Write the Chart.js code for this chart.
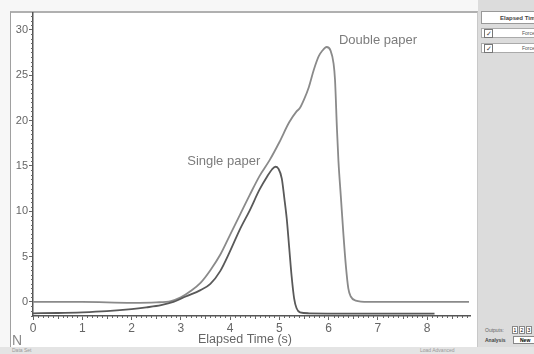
<!DOCTYPE html>
<html>
<head>
<meta charset="utf-8">
<script src="https://cdn.jsdelivr.net/npm/chart.js@4.4.1/dist/chart.umd.min.js"></script>
<style>
  body { margin: 0; background: #f7f7f7; }
  #wrap { position: relative; width: 534px; height: 354px; overflow: hidden; font-family: "Liberation Sans", Arial, sans-serif; }
  .plot { position: absolute; left: 10px; top: 11px; width: 466px; height: 336px; background: #fff;
          border-left: 1px solid #a0a0a0; border-top: 2px solid #b0b0b0; border-right: 1px solid #c8c8c8; }
  .side { position: absolute; left: 478px; top: 0; width: 56px; height: 354px; background: #dcdcdc; }
  .hdr { position: absolute; left: 481px; top: 11px; width: 60px; height: 13px; background: #fff; border: 1px solid #999;
         font-size: 6px; font-weight: bold; line-height: 13px; padding-left: 18px; box-sizing: border-box; color: #444; white-space: nowrap; }
  .row { position: absolute; left: 481px; width: 60px; height: 10px; background: #fff; border: 1px solid #aaa; box-sizing: border-box;
         font-size: 5px; line-height: 9px; color: #555; }
  .row .cb { position: absolute; left: 2px; top: 0px; width: 7px; height: 7px; border: 1px solid #777; font-size: 7px; line-height: 7px; text-align: center; color: #444; }
  .row .t { position: absolute; left: 40px; top: 0; }
  .bottom { position: absolute; left: 0; top: 347px; width: 534px; height: 7px; background: #e4e4e4; font-size: 5px; color: #999; }
  .tiny { position: absolute; font-size: 5px; color: #666; white-space: nowrap; }
  .box { position: absolute; width: 6px; height: 8px; border: 1px solid #888; background: #fff; box-sizing: border-box; font-size: 5px; text-align: center; line-height: 6px; }
  canvas { position: absolute; left: 0; top: 0; }
</style>
</head>
<body>
<div id="wrap">
  <div class="plot"></div>
  <div class="side"></div>
  <div class="hdr">Elapsed Time</div>
  <div class="row" style="top:28px"><span class="cb">&#10003;</span><span class="t">Force</span></div>
  <div class="row" style="top:43px"><span class="cb">&#10003;</span><span class="t">Force</span></div>
  <div class="tiny" style="left:485px; top:327px;">Outputs:</div>
  <div class="box" style="left:512px; top:326px;">1</div>
  <div class="box" style="left:519px; top:326px;">2</div>
  <div class="box" style="left:526px; top:326px;">3</div>
  <div class="tiny" style="left:485px; top:337px; font-weight:bold; color:#444;">Analysis</div>
  <div class="box" style="left:513px; top:336px; width:24px; font-weight:bold; line-height:6px; text-align:left; padding-left:6px;">New</div>
  <div class="bottom"><span style="position:absolute; left:12px; top:0;">Data Set</span><span style="position:absolute; left:420px; top:0;">Load Advanced</span></div>
  <canvas id="c" width="534" height="354"></canvas>
</div>
<script>
const seriesNames = ['Single paper', 'Double paper'];

const singleTime = [0, 0.5, 1.0, 1.5, 2.0, 2.3, 2.6, 2.85, 3.1, 3.4, 3.6, 3.8, 4.0, 4.2, 4.4, 4.6, 4.75, 4.85, 4.92,
  4.98, 5.05, 5.1, 5.15, 5.2, 5.25, 5.3, 5.35, 5.42, 5.6, 6.5, 7.5, 8.15];
const singleForce = [-1.25, -1.22, -1.15, -1.02, -0.8, -0.6, -0.35, 0.0, 0.6, 1.3, 2.0, 3.4, 5.6, 8.0, 10.1, 12.4, 13.8, 14.6, 14.9,
  14.7, 13.6, 11.5, 9.2, 6.0, 2.8, 0.4, -0.7, -1.15, -1.25, -1.28, -1.28, -1.28];

const doubleTime = [0, 1.0, 2.0, 2.5, 2.8, 3.0, 3.2, 3.4, 3.6, 3.8, 4.0, 4.2, 4.4, 4.6, 4.8, 5.0, 5.2, 5.35, 5.42,
  5.5, 5.6, 5.7, 5.8, 5.86, 5.96, 6.04, 6.1, 6.13, 6.17, 6.2, 6.25, 6.3, 6.35, 6.4, 6.45, 6.55, 6.8, 8.85];
const doubleForce = [0.0, 0.0, -0.1, -0.05, 0.1, 0.5, 1.2, 2.1, 3.5, 5.2, 7.4, 9.6, 11.8, 13.9, 15.6, 17.6, 19.8, 21.0, 21.4,
  22.3, 23.7, 25.6, 27.1, 27.6, 28.1, 27.7, 26.3, 24.5, 19.0, 15.5, 11.5, 7.5, 4.0, 1.5, 0.6, 0.15, 0.0, 0.0];

const xTicks = [0, 1, 2, 3, 4, 5, 6, 7, 8];
const yTicks = [0, 5, 10, 15, 20, 25, 30];
const xTitle = 'Elapsed Time (s)';
const yUnit = 'N';
// where the two curve labels sit, in data units (time, force)
const labelAnchors = [[3.13, 15.45], [6.21, 28.8]];

const toPoints = (xs, ys) => xs.map((x, i) => ({ x: x, y: ys[i] }));

const decor = {
  id: 'decor',
  afterDraw(chart) {
    const ctx = chart.ctx;
    const xs = chart.scales.x, ys = chart.scales.y;
    const area = chart.chartArea;
    ctx.save();
    ctx.strokeStyle = '#666';
    ctx.lineWidth = 1;
    // minor ticks along the time axis
    for (let i = 0; i <= Math.floor(xs.max * 10); i++) {
      const px = Math.round(xs.getPixelForValue(i / 10)) + 0.5;
      const len = i % 10 === 0 ? 0 : (i % 5 === 0 ? 3 : 2);
      if (!len) continue;
      ctx.beginPath();
      ctx.moveTo(px, area.bottom);
      ctx.lineTo(px, area.bottom + len);
      ctx.stroke();
    }
    // minor ticks along the force axis
    for (let v = -1.5; v <= ys.max; v += 0.5) {
      if (v % 5 === 0) continue;
      const py = Math.round(ys.getPixelForValue(v)) + 0.5;
      ctx.beginPath();
      ctx.moveTo(area.left - 2, py);
      ctx.lineTo(area.left, py);
      ctx.stroke();
    }
    // curve labels
    ctx.fillStyle = '#7c7c7c';
    ctx.font = '13px "Liberation Sans", Arial, sans-serif';
    ctx.textBaseline = 'middle';
    ctx.textAlign = 'left';
    labelAnchors.forEach((a, i) => {
      ctx.fillText(seriesNames[i], xs.getPixelForValue(a[0]), ys.getPixelForValue(a[1]));
    });
    // axis title and unit
    ctx.fillStyle = '#666';
    ctx.font = '12.5px "Liberation Sans", Arial, sans-serif';
    ctx.textAlign = 'center';
    ctx.fillText(xTitle, 245, 340);
    ctx.fillStyle = '#8a8a8a';
    ctx.font = '14px "Liberation Sans", Arial, sans-serif';
    ctx.textAlign = 'left';
    ctx.fillText(yUnit, 12, 341);
    ctx.restore();
  }
};

new Chart(document.getElementById('c'), {
  type: 'scatter',
  data: {
    datasets: [{
      label: seriesNames[0],
      data: toPoints(singleTime, singleForce),
      showLine: true,
      borderColor: '#595959',
      borderWidth: 1.8,
      pointRadius: 0,
      cubicInterpolationMode: 'monotone'
    }, {
      label: seriesNames[1],
      data: toPoints(doubleTime, doubleForce),
      showLine: true,
      borderColor: '#8a8a8a',
      borderWidth: 1.8,
      pointRadius: 0,
      cubicInterpolationMode: 'monotone'
    }]
  },
  options: {
    responsive: false,
    animation: false,
    layout: { padding: { left: 11, top: 13, right: 64, bottom: 2 } },
    plugins: {
      legend: { display: false },
      tooltip: { enabled: false }
    },
    scales: {
      x: {
        type: 'linear',
        min: 0,
        max: 8.87,
        afterBuildTicks: s => { s.ticks = xTicks.map(v => ({ value: v })); },
        afterFit: s => { s.height = 36; },
        grid: { drawOnChartArea: false, drawTicks: true, tickLength: 4, color: '#666' },
        border: { color: '#555', width: 1.5 },
        ticks: { color: '#666', font: { size: 12, family: '"Liberation Sans", Arial' }, padding: 1, maxRotation: 0 }
      },
      y: {
        type: 'linear',
        min: -1.55,
        max: 31.85,
        afterBuildTicks: s => { s.ticks = yTicks.map(v => ({ value: v })); },
        afterFit: s => { s.width = 22; },
        grid: { drawOnChartArea: false, drawTicks: true, tickLength: 4, color: '#666' },
        border: { color: '#555', width: 1.5 },
        ticks: { color: '#666', font: { size: 11, family: '"Liberation Sans", Arial' }, padding: 1 }
      }
    }
  },
  plugins: [decor]
});
</script>
</body>
</html>
